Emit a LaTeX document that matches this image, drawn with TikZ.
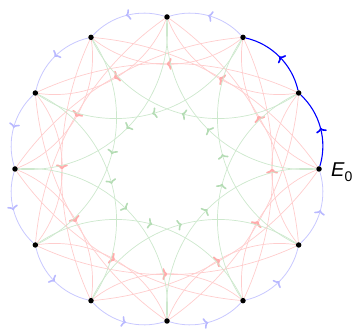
\documentclass[tikz,border=0pt]{standalone}
\usepackage{fontspec}
\setmainfont{Liberation Sans}
\usetikzlibrary{arrows.meta,decorations.markings}
\definecolor{lblue}{RGB}{200,200,255}
\definecolor{lred}{RGB}{255,205,205}
\definecolor{lgreen}{RGB}{205,232,205}
\definecolor{ablue}{RGB}{185,185,255}
\definecolor{ared}{RGB}{255,172,172}
\definecolor{agreen}{RGB}{180,220,180}
\pgfdeclarelayer{bg}
\pgfsetlayers{bg,main}
\begin{document}
\begin{tikzpicture}[x=1pt,y=1pt,
  dot/.style={circle,fill=black,inner sep=0pt,minimum size=5.5pt},
  marr/.style={postaction={decorate},decoration={markings,mark=at position 0.5 with {\arrow[#1,line width=1.6pt]{To[length=4.5pt,width=11pt]}}}},
  blueline/.style={lblue,line width=0.8pt,marr=ablue},
  darkline/.style={blue,line width=1.1pt,marr=blue},
  redarc/.style={lred,line width=0.7pt,marr=ared},
  greenarc/.style={lgreen,line width=0.7pt,marr=agreen}]
\useasboundingbox (0,0) rectangle (359,329);
\foreach \k in {0,...,11}{
  \node[dot] (v\k) at ({167+152*cos(30*\k)},{160+152*sin(30*\k)}) {};
}
\node[anchor=base west,inner sep=0pt] (lab) at (331,152) {\fontsize{20}{20}\selectfont\textit{E}\raisebox{-0.25em}{\fontsize{14}{14}\selectfont 0}};
\begin{pgfonlayer}{bg}
\foreach \k in {0,...,11}{
  \pgfmathtruncatemacro\a{mod(\k+2,12)}
  \pgfmathtruncatemacro\b{mod(\k+4,12)}
  \draw[redarc] (v\k) to[bend left=38,looseness=0.95] (v\a);
  \draw[redarc] (v\k) to[bend right=25,looseness=0.89] (v\b);
}
\foreach \k in {0,...,11}{
  \pgfmathtruncatemacro\a{mod(\k+3,12)}
  \draw[greenarc] (v\k) to[bend left=49,looseness=1.03] (v\a);
}
\foreach \k in {2,...,11}{
  \pgfmathtruncatemacro\c{mod(\k+1,12)}
  \draw[blueline] (v\k) to[bend right=32,looseness=0.92] (v\c);
}
\draw[darkline] (v0) to[bend right=32,looseness=0.92] (v1);
\draw[darkline] (v1) to[bend right=32,looseness=0.92] (v2);
\end{pgfonlayer}
\end{tikzpicture}
\end{document}
